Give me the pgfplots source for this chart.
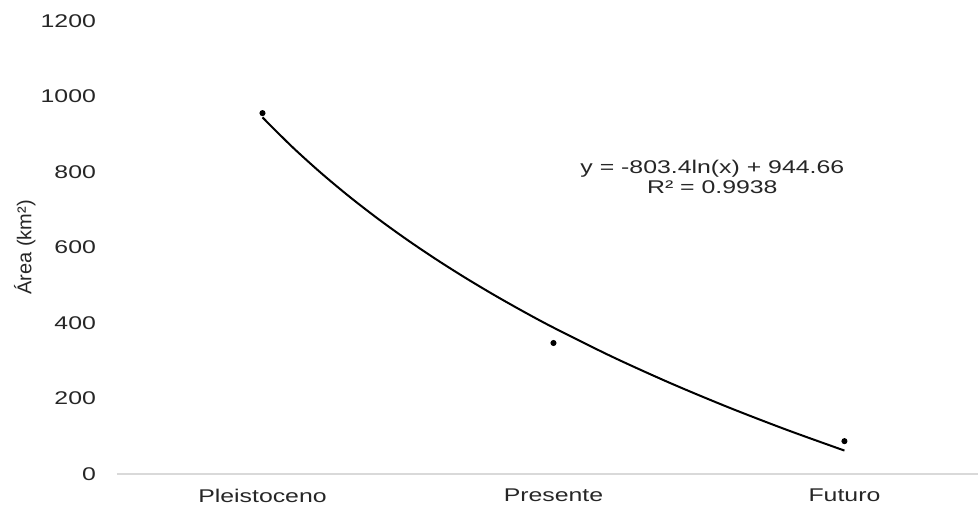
\documentclass[border=0pt]{standalone}
\usepackage{fontspec}
\setmainfont{Liberation Sans}
\newfontfamily\wide[FakeStretch=1.35]{Liberation Sans}
\usepackage{pgfplots}
\pgfplotsset{compat=1.18}
\definecolor{axisgrey}{HTML}{D9D9D9}
\begin{document}
\begin{tikzpicture}
\begin{axis}[
  scale only axis, width=430.5pt, height=226.5pt,
  xmin=0.5, xmax=3.459, ymin=0, ymax=1200,
  axis line style={draw=none},
  ytick={0,200,...,1200},
  xtick={1,2,3}, xticklabels={Pleistoceno,Presente,Futuro},
  major tick length=0pt,
  /pgf/number format/assume math mode=true,
  /pgf/number format/1000 sep={},
  ticklabel style={font=\wide\fontsize{9.2}{10}\selectfont, text=black!85},
  yticklabel style={xshift=-7pt},
  xticklabel style={yshift=-4pt},
  ylabel={Área (km²)},
  ylabel style={at={(axis description cs:-0.107,0.5)}, anchor=center, font=\fontsize{10}{11}\selectfont, text=black!85},
  clip=false,
]
\draw[axisgrey, line width=0.6pt] (rel axis cs:0,0) -- (rel axis cs:1,0);
\addplot[black, line width=1pt, smooth, no markers] coordinates {
 (1.0,944.66) (1.1,868.09) (1.2,798.18) (1.3,733.88) (1.4,674.34)
 (1.5,618.91) (1.6,567.06) (1.7,518.35) (1.8,472.43) (1.9,429.00)
 (2.0,387.78) (2.2,311.21) (2.4,241.31) (2.6,177.00) (2.8,117.46)
 (3.0,62.04)
};
\addplot[only marks, mark=*, mark size=1.3pt, black] coordinates {
 (1,956) (2,347) (3,87)
};
\node[align=center, font=\wide\fontsize{9.2}{10}\selectfont, text=black!85, inner sep=0pt] at (axis cs:2.546,787) {y = -803.4ln(x) + 944.66\\R² = 0.9938};
\end{axis}
\pgfresetboundingbox
\path (-58.5pt,-16pt) rectangle (430.5pt,237pt);
\end{tikzpicture}
\end{document}
